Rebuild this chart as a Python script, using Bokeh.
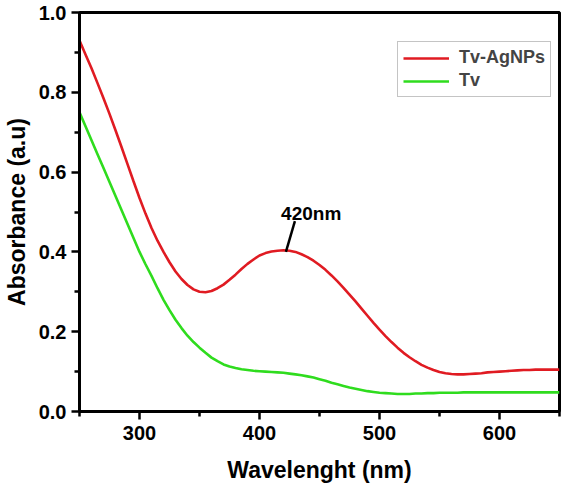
from bokeh.plotting import figure
from bokeh.models import FixedTicker, PrintfTickFormatter, Legend, LegendItem, Range1d
from bokeh.embed import file_html
from bokeh.resources import INLINE
from bokeh.core.properties import value

wavelength = [250, 255, 260, 265, 270, 275, 280, 285, 290, 295, 300, 305, 310, 315,
              320, 325, 330, 335, 340, 345, 350, 355, 360, 365, 370, 375, 380, 385,
              390, 395, 400, 405, 410, 415, 420, 425, 430, 435, 440, 445, 450, 455,
              460, 465, 470, 475, 480, 485, 490, 495, 500, 505, 510, 515, 520, 525,
              530, 535, 540, 545, 550, 555, 560, 565, 570, 575, 580, 585, 590, 595,
              600, 605, 610, 615, 620, 625, 630, 635, 640, 645, 650]
tv_agnps = [0.930, 0.895, 0.860, 0.823, 0.785, 0.746, 0.705, 0.663, 0.620, 0.577,
            0.535, 0.496, 0.460, 0.428, 0.400, 0.374, 0.351, 0.332, 0.317, 0.306,
            0.300, 0.299, 0.302, 0.309, 0.318, 0.330, 0.343, 0.357, 0.370, 0.381,
            0.391, 0.397, 0.401, 0.403, 0.404, 0.403, 0.400, 0.394, 0.387, 0.378,
            0.367, 0.355, 0.341, 0.326, 0.310, 0.293, 0.276, 0.258, 0.240, 0.222,
            0.205, 0.189, 0.174, 0.160, 0.147, 0.136, 0.126, 0.117, 0.110, 0.104,
            0.099, 0.096, 0.094, 0.093, 0.093, 0.094, 0.095, 0.096, 0.098, 0.099,
            0.100, 0.101, 0.102, 0.103, 0.104, 0.104, 0.105, 0.105, 0.105, 0.105,
            0.105]
tv = [0.750, 0.715, 0.680, 0.645, 0.610, 0.575, 0.540, 0.505, 0.470, 0.435,
      0.400, 0.369, 0.340, 0.309, 0.280, 0.254, 0.230, 0.209, 0.190, 0.174,
      0.160, 0.147, 0.135, 0.126, 0.118, 0.113, 0.109, 0.106, 0.104, 0.102,
      0.101, 0.100, 0.099, 0.098, 0.097, 0.095, 0.093, 0.091, 0.088, 0.085,
      0.081, 0.077, 0.072, 0.068, 0.064, 0.060, 0.057, 0.054, 0.051, 0.049,
      0.047, 0.046, 0.045, 0.044, 0.044, 0.044, 0.045, 0.045, 0.046, 0.046,
      0.047, 0.047, 0.047, 0.047, 0.048, 0.048, 0.048, 0.048, 0.048, 0.048,
      0.048, 0.048, 0.048, 0.048, 0.048, 0.048, 0.048, 0.048, 0.048, 0.048,
      0.048]
series_names = ["Tv-AgNPs", "Tv"]
x_ticks = [300, 400, 500, 600]
x_minor = [250, 350, 450, 550, 650]
y_ticks = [0.0, 0.2, 0.4, 0.6, 0.8, 1.0]
y_minor = [0.1, 0.3, 0.5, 0.7, 0.9]
peak_label = "420nm"
peak_wl = 420
peak_abs = 0.40

FONT = "Liberation Sans"
RED = "#e01b22"
GREEN = "#2fdc1e"

p = figure(width=564, height=487, output_backend="svg", toolbar_location=None,
           x_range=Range1d(250, 650), y_range=Range1d(0, 1.0),
           min_border_left=76, min_border_right=5, min_border_top=12,
           min_border_bottom=76)
p.xgrid.visible = False
p.ygrid.visible = False
p.background_fill_color = "white"
p.border_fill_color = "white"
p.outline_line_color = "black"
p.outline_line_width = 3
p.outline_line_alpha = 1.0

r1 = p.line(wavelength, tv_agnps, line_color=RED, line_width=2.6)
r2 = p.line(wavelength, tv, line_color=GREEN, line_width=2.6)

for ax in (p.xaxis[0], p.yaxis[0]):
    ax.axis_line_width = 3
    ax.axis_line_color = "black"
    ax.major_tick_line_width = 2.5
    ax.minor_tick_line_width = 2.5
    ax.major_tick_in = 0
    ax.major_tick_out = 8
    ax.minor_tick_in = 0
    ax.minor_tick_out = 5
    ax.major_label_text_font = FONT
    ax.major_label_text_font_style = "bold"
    ax.major_label_text_font_size = "20px"
    ax.major_label_text_color = "black"
    ax.axis_label_text_font = FONT
    ax.axis_label_text_font_style = "bold"
    ax.axis_label_text_font_size = "23px"
    ax.axis_label_text_color = "black"

p.xaxis[0].ticker = FixedTicker(ticks=x_ticks, minor_ticks=x_minor)
p.yaxis[0].ticker = FixedTicker(ticks=y_ticks, minor_ticks=y_minor)
p.yaxis[0].formatter = PrintfTickFormatter(format="%.1f")
p.xaxis[0].axis_label = "Wavelenght (nm)"
p.yaxis[0].axis_label = "Absorbance (a.u)"
p.xaxis[0].major_label_standoff = 6
p.yaxis[0].major_label_standoff = 5
p.xaxis[0].axis_label_standoff = 14
p.yaxis[0].axis_label_standoff = 6

# annotation
p.segment(x0=[peak_wl + 2], y0=[peak_abs], x1=[peak_wl + 9.5], y1=[peak_abs + 0.077],
          line_color="black", line_width=2.5)
p.text(x=[peak_wl - 2], y=[peak_abs + 0.097], text=[peak_label],
       text_font=value(FONT), text_font_style="bold", text_font_size="19px",
       text_align="left", text_baseline="alphabetic", text_color="black")

legend = Legend(items=[LegendItem(label=series_names[0], renderers=[r1]),
                       LegendItem(label=series_names[1], renderers=[r2])],
                location=(318, 314))
legend.label_text_font = FONT
legend.label_text_font_style = "bold"
legend.label_text_font_size = "18px"
legend.glyph_width = 46
legend.glyph_height = 18
legend.label_height = 18
legend.label_standoff = 10
legend.spacing = 2
legend.padding = 5
legend.margin = 0
legend.border_line_color = "#8a8a8a"
legend.border_line_width = 1.2
legend.background_fill_alpha = 1.0
p.add_layout(legend)

open("out.html", "w").write(file_html(p, INLINE))
